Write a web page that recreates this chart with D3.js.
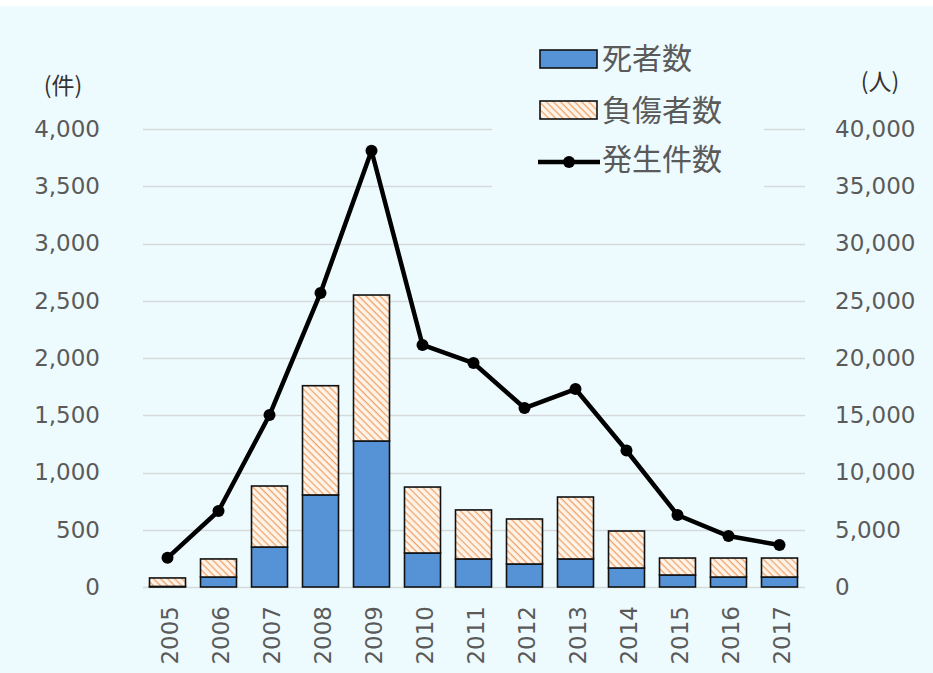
<!DOCTYPE html>
<html>
<head>
<meta charset="utf-8">
<script src="https://cdn.jsdelivr.net/npm/d3@7"></script>
<style>
  html, body { margin: 0; padding: 0; background: #ffffff; }
  svg { display: block; }
</style>
</head>
<body>
<svg id="chart" width="933" height="673"></svg>
<script>
// Years on the category axis
const years = ["2005","2006","2007","2008","2009","2010","2011","2012","2013","2014","2015","2016","2017"];
// Deaths (人, right axis)
const deaths = [50, 870, 3490, 8040, 12750, 2970, 2450, 2010, 2450, 1660, 1050, 870, 870];
// Injured (人, right axis), stacked on deaths
const injured = [740, 1580, 5330, 9540, 12750, 5760, 4280, 3930, 5410, 3230, 1480, 1660, 1660];
// Number of incidents (件, left axis)
const incidents = [255, 664, 1502, 2568, 3810, 2114, 1956, 1563, 1729, 1192, 629, 445, 367];
// Axis ticks
const leftTicks = [0, 500, 1000, 1500, 2000, 2500, 3000, 3500, 4000];
const rightTicks = [0, 5000, 10000, 15000, 20000, 25000, 30000, 35000, 40000];
// Legend entries
const legendLabels = ["死者数", "負傷者数", "発生件数"];
const unitLeft = "(件)";
const unitRight = "(人)";

const svg = d3.select("#chart");
const textColor = "#5a5a5a";
const bg = "#eefbfe";

// background panel
svg.append("rect").attr("x", 0).attr("y", 6).attr("width", 933).attr("height", 667).attr("fill", bg);

// hatch pattern for injured (downward diagonal stripes)
const defs = svg.append("defs");
const pat = defs.append("pattern")
  .attr("id", "hatch").attr("patternUnits", "userSpaceOnUse")
  .attr("width", 5).attr("height", 5)
  .attr("patternTransform", "rotate(45)");
pat.append("rect").attr("width", 5).attr("height", 5).attr("fill", "#fff4ea");
pat.append("line").attr("x1", 0).attr("y1", 0).attr("x2", 5).attr("y2", 0)
  .attr("stroke", "#f0a46a").attr("stroke-width", 2.6);

const x = d3.scaleBand().domain(years).range([141.5, 805.5]).paddingInner(0.294).paddingOuter(0.157);
const yL = d3.scaleLinear().domain([0, 4000]).range([587, 129]);
const yR = d3.scaleLinear().domain([0, 40000]).range([587, 129]);

// gridlines
svg.append("g").selectAll("line").data(leftTicks).join("line")
  .attr("x1", 143).attr("x2", 805)
  .attr("y1", d => Math.round(yL(d)) + 0.5).attr("y2", d => Math.round(yL(d)) + 0.5)
  .attr("stroke", "#d6d9da").attr("stroke-width", 1.3);

// left axis
const axL = svg.append("g").attr("transform", "translate(100,0)")
  .call(d3.axisLeft(yL).tickValues(leftTicks).tickFormat(d3.format(",")).tickSize(0).tickPadding(0));
axL.select(".domain").remove();
axL.selectAll("text").attr("fill", textColor)
  .style("font-family", "'DejaVu Sans', sans-serif").style("font-size", "23px");

// right axis
const axR = svg.append("g").attr("transform", "translate(835,0)")
  .call(d3.axisRight(yR).tickValues(rightTicks).tickFormat(d3.format(",")).tickSize(0).tickPadding(0));
axR.select(".domain").remove();
axR.selectAll("text").attr("fill", textColor)
  .style("font-family", "'DejaVu Sans', sans-serif").style("font-size", "23px");

// unit labels
svg.append("text").attr("x", 63).attr("y", 86).attr("text-anchor", "middle").attr("dy", "0.35em")
  .attr("fill", "#333").style("font-family", "'Noto Sans CJK JP', sans-serif").style("font-size", "23px")
  .text(unitLeft);
svg.append("text").attr("x", 880).attr("y", 82).attr("text-anchor", "middle").attr("dy", "0.35em")
  .attr("fill", "#333").style("font-family", "'Noto Sans CJK JP', sans-serif").style("font-size", "23px")
  .text(unitRight);

// x labels (rotated)
svg.append("g").selectAll("text").data(years).join("text")
  .attr("transform", d => `translate(${x(d) + x.bandwidth() / 2 + 2},606) rotate(-90)`)
  .attr("text-anchor", "end").attr("dy", "0.36em")
  .attr("fill", textColor)
  .style("font-family", "'DejaVu Sans', sans-serif").style("font-size", "23px")
  .text(d => d);

// legend backdrop hides gridlines behind it
svg.append("rect").attr("x", 492).attr("y", 30).attr("width", 272).attr("height", 166).attr("fill", bg);

// stacked bars
const bars = svg.append("g");
bars.selectAll("rect.death").data(years).join("rect").attr("class", "death")
  .attr("x", d => x(d)).attr("width", x.bandwidth())
  .attr("y", (d, i) => yR(deaths[i])).attr("height", (d, i) => yR(0) - yR(deaths[i]))
  .attr("fill", "#5592d6").attr("stroke", "#111").attr("stroke-width", 1.6);
bars.selectAll("rect.inj").data(years).join("rect").attr("class", "inj")
  .attr("x", d => x(d)).attr("width", x.bandwidth())
  .attr("y", (d, i) => yR(deaths[i] + injured[i])).attr("height", (d, i) => yR(deaths[i]) - yR(deaths[i] + injured[i]))
  .attr("fill", "url(#hatch)").attr("stroke", "#111").attr("stroke-width", 1.6);

// incidents line
const cx = d => x(d) + x.bandwidth() / 2;
const line = d3.line().x((d, i) => cx(years[i])).y(d => yL(d));
svg.append("path").datum(incidents).attr("d", line)
  .attr("fill", "none").attr("stroke", "#000").attr("stroke-width", 4.5).attr("stroke-linejoin", "round");
svg.append("g").selectAll("circle").data(incidents).join("circle")
  .attr("cx", (d, i) => cx(years[i])).attr("cy", d => yL(d)).attr("r", 6).attr("fill", "#000");

// legend
const lg = svg.append("g");
lg.append("rect").attr("x", 540).attr("y", 50).attr("width", 57).attr("height", 18)
  .attr("fill", "#5592d6").attr("stroke", "#111").attr("stroke-width", 1.6);
lg.append("rect").attr("x", 540).attr("y", 101).attr("width", 57).attr("height", 18)
  .attr("fill", "url(#hatch)").attr("stroke", "#111").attr("stroke-width", 1.6);
lg.append("line").attr("x1", 538).attr("x2", 600).attr("y1", 162).attr("y2", 162)
  .attr("stroke", "#000").attr("stroke-width", 4.5);
lg.append("circle").attr("cx", 569).attr("cy", 162).attr("r", 6).attr("fill", "#000");
lg.selectAll("text").data(legendLabels).join("text")
  .attr("x", 602).attr("y", (d, i) => [58, 110, 159][i]).attr("dy", "0.36em")
  .attr("fill", textColor)
  .style("font-family", "'Noto Sans CJK JP', sans-serif").style("font-size", "30px")
  .text(d => d);
</script>
</body>
</html>
